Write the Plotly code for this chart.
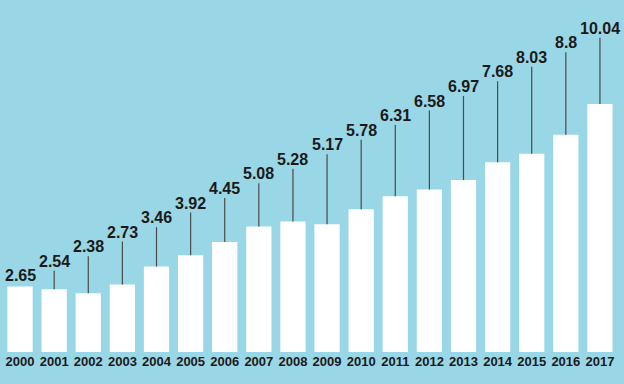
import plotly.graph_objects as go

years = ["2000", "2001", "2002", "2003", "2004", "2005", "2006", "2007", "2008",
         "2009", "2010", "2011", "2012", "2013", "2014", "2015", "2016", "2017"]
values = [2.65, 2.54, 2.38, 2.73, 3.46, 3.92, 4.45, 5.08, 5.28,
          5.17, 5.78, 6.31, 6.58, 6.97, 7.68, 8.03, 8.8, 10.04]
value_labels = ["2.65", "2.54", "2.38", "2.73", "3.46", "3.92", "4.45", "5.08", "5.28",
                "5.17", "5.78", "6.31", "6.58", "6.97", "7.68", "8.03", "8.8", "10.04"]

BG = "#9AD7E6"
TXT = "#1a1a1a"

idx = list(range(len(years)))

# staggered label heights (layout rule, data units)
label_base = 3.08
label_step = 0.59
label_gap = 0.38
label_y = [label_base + label_step * i for i in idx]

lx, ly = [], []
for i, v, ly_ in zip(idx, values, label_y):
    top = ly_ - label_gap
    if top - v > 0.15:
        lx += [i, i, None]
        ly += [v, top, None]

fig = go.Figure()
fig.add_trace(go.Bar(x=idx, y=values, marker=dict(color="white", line=dict(width=0)),
                     hoverinfo="skip"))
fig.add_trace(go.Scatter(x=lx, y=ly, mode="lines", line=dict(color="#4a4a4a", width=1.2),
                         hoverinfo="skip"))

for i, t, y in zip(idx, value_labels, label_y):
    fig.add_annotation(x=i, y=y, text="<b>%s</b>" % t, showarrow=False,
                       font=dict(family="Liberation Sans", size=16, color=TXT),
                       xanchor="center", yanchor="middle")

fig.update_layout(
    width=624, height=384,
    paper_bgcolor=BG, plot_bgcolor=BG,
    margin=dict(l=3, r=7, t=10, b=32),
    showlegend=False,
    bargap=0.26,
    xaxis=dict(range=[-0.5, len(years) - 0.5], tickmode="array", tickvals=idx,
               ticktext=["<b>%s</b>" % y for y in years], automargin=False,
               showgrid=False, zeroline=False, showline=False, ticks="",
               tickfont=dict(family="Liberation Sans", size=13, color=TXT),
               fixedrange=True),
    yaxis=dict(range=[0, 13.85], visible=False, fixedrange=True, automargin=False),
)

fig.write_html("out.html", config={"displayModeBar": False})

with open("out.html", "r", encoding="utf-8") as f:
    html = f.read()
html = html.replace("<body>", '<body style="margin:0;padding:0;overflow:hidden">', 1)
with open("out.html", "w", encoding="utf-8") as f:
    f.write(html)
